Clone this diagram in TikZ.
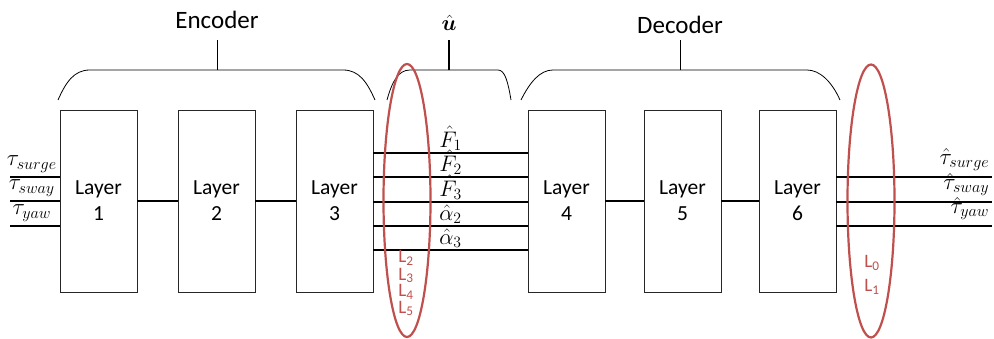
\RequirePackage{fix-cm}
\documentclass[tikz,border=0pt]{standalone}
\usepackage{bm}
\usepackage{fontspec}
\setmainfont{Carlito}
\usetikzlibrary{shapes.geometric}
\definecolor{ered}{HTML}{C0504D}
\begin{document}
\begin{tikzpicture}[x=1pt,y=-1pt,
  layerbox/.style={draw=black!85,line width=0.8pt,minimum width=77pt,minimum height=182pt,inner sep=0pt,align=center,font=\fontsize{21.5}{26}\selectfont},
  conn/.style={line width=1.3pt},
  brace/.style={line width=0.8pt},
  inlab/.style={font=\fontsize{23}{26}\selectfont,inner sep=0pt,anchor=south,yshift=4pt},
  mlab/.style={font=\fontsize{22.5}{26}\selectfont,inner sep=0pt,anchor=south,yshift=1.5pt},
  rlab/.style={font=\fontsize{23}{26}\selectfont,inner sep=0pt,anchor=south east,yshift=6pt},
  hd/.style={font=\fontsize{25}{28}\selectfont,inner sep=0pt},
  lossring/.style={draw=ered,line width=2.2pt,ellipse,inner sep=0pt,minimum width=47pt,minimum height=273pt},
  losslab/.style={text=ered,inner sep=0pt,anchor=base,font=\fontsize{19}{21}\selectfont}]
\useasboundingbox (0,0) rectangle (994,339);

% layers
\node[layerbox] (l1) at (98.5,201) {Layer\\1};
\node[layerbox] (l2) at (216.5,201) {Layer\\2};
\node[layerbox] (l3) at (334.5,201) {Layer\\3};
\node[layerbox] (l4) at (566.5,201) {Layer\\4};
\node[layerbox] (l5) at (682.5,201) {Layer\\5};
\node[layerbox] (l6) at (797.5,201) {Layer\\6};

\draw[conn] (l1) -- (l2);
\draw[conn] (l2) -- (l3);
\draw[conn] (l4) -- (l5);
\draw[conn] (l5) -- (l6);

% inputs
\coordinate (in1) at (10,177);
\coordinate (in2) at (10,201);
\coordinate (in3) at (10,226);
\draw[conn] (in1) -- (in1 -| l1.west) node[midway,inlab,xshift=-3pt] (t1) {$\tau_{surge}$};
\draw[conn] (in2) -- (in2 -| l1.west) node[midway,inlab,xshift=-3pt] (t2) {$\tau_{sway}$};
\draw[conn] (in3) -- (in3 -| l1.west) node[midway,inlab,xshift=-3pt] (t3) {$\tau_{yaw}$};

% latent
\draw[conn] ([yshift=48pt]l3.east) -- ([yshift=48pt]l4.west) node[midway,mlab] (u1) {$\hat{F}_1$};
\draw[conn] ([yshift=24pt]l3.east) -- ([yshift=24pt]l4.west) node[midway,mlab] (u2) {$\hat{F}_2$};
\draw[conn] ([yshift=-1pt]l3.east) -- ([yshift=-1pt]l4.west) node[midway,mlab] (u3) {$\hat{F}_3$};
\draw[conn] ([yshift=-25pt]l3.east) -- ([yshift=-25pt]l4.west) node[midway,mlab] (u4) {$\hat{\alpha}_2$};
\draw[conn] ([yshift=-49pt]l3.east) -- ([yshift=-49pt]l4.west) node[midway,mlab] (u5) {$\hat{\alpha}_3$};

% outputs
\draw[conn] ([yshift=24pt]l6.east) -- ++(156,0) coordinate (o1);
\draw[conn] ([yshift=-1pt]l6.east) -- ++(156,0) coordinate (o2);
\draw[conn] ([yshift=-25pt]l6.east) -- ++(156,0) coordinate (o3);
\node[rlab] (ot1) at ([xshift=-3pt]o1) {$\hat{\tau}_{surge}$};
\node[rlab] (ot2) at ([xshift=-3pt]o2) {$\hat{\tau}_{sway}$};
\node[rlab] (ot3) at ([xshift=-3pt]o3) {$\hat{\tau}_{yaw}$};

% braces
\draw[brace] (58,100) .. controls (66,82) and (74,70) .. (90,70) -- (343,70) .. controls (359,70) and (367,82) .. (375,100);
\draw[brace] (217,70) -- (217,40);
\node[hd] (enc) at (217,20) {Encoder};

\draw[brace] (387,100) .. controls (392,82) and (398,70) .. (410,70) -- (498,70) .. controls (505,70) and (508,82) .. (511,100);
\draw[line width=1.2pt] (449,70) -- (449,40);
\node[font=\fontsize{22}{24}\selectfont,inner sep=0pt] (uhat) at (449,23) {$\hat{\bm{u}}$};

\draw[brace] (521,100) .. controls (530,82) and (540,70) .. (553,70) -- (807,70) .. controls (820,70) and (832,82) .. (840,100);
\draw[brace] (680,70) -- (680,40);
\node[hd] (dec) at (680,25) {Decoder};

% loss rings
\node[lossring] (ringA) at (407,200.5) {};
\node[lossring] (ringB) at (871,201) {};
\node[losslab] (lA2) at (406,263) {L\textsubscript{2}};
\node[losslab] (lA3) at (406,280) {L\textsubscript{3}};
\node[losslab] (lA4) at (406,297) {L\textsubscript{4}};
\node[losslab] (lA5) at (406,313) {L\textsubscript{5}};
\node[losslab] (lB0) at (872,268) {L\textsubscript{0}};
\node[losslab] (lB1) at (872,292) {L\textsubscript{1}};
\end{tikzpicture}
\end{document}
